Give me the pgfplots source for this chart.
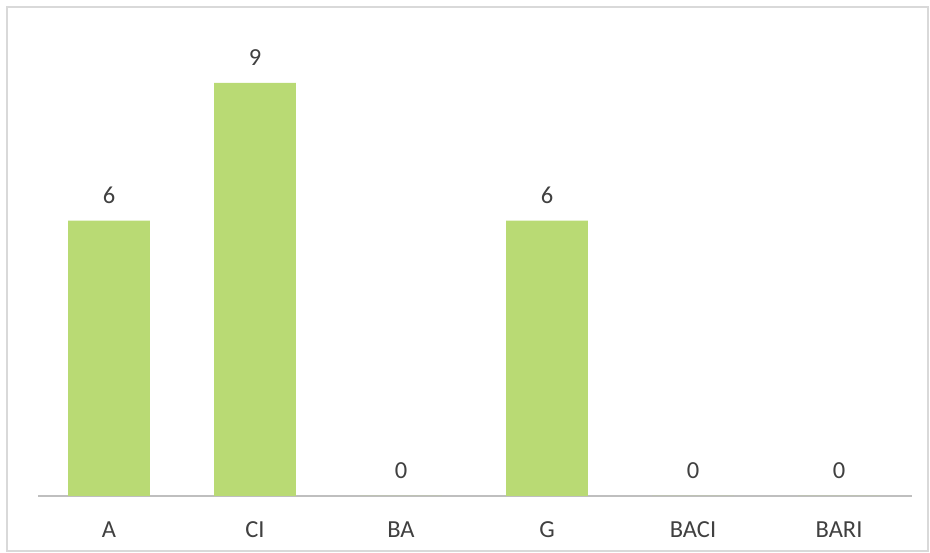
\documentclass[border=0pt]{standalone}
\usepackage{pgfplots}
\pgfplotsset{compat=1.18}
\usepackage{fontspec}
\setmainfont{Carlito}
\definecolor{bargreen}{HTML}{B9DA74}
\definecolor{txtgray}{HTML}{404040}
\definecolor{linegray}{HTML}{BFBFBF}
\definecolor{framegray}{HTML}{D9D9D9}
\begin{document}
\begin{tikzpicture}[x=1bp,y=1bp]
  \path[use as bounding box] (0,0) rectangle (930,553);
  \draw[framegray, line width=2bp] (7,2) rectangle (928,546);
  \begin{axis}[
    at={(109bp,57bp)}, anchor=origin,
    scale only axis,
    width=874bp, height=466bp,
    xmin=-0.486, xmax=5.5,
    ymin=0, ymax=10.15,
    ybar, bar width=0.56,
    axis x line=bottom, axis y line=none,
    axis line style={linegray, line width=2.6bp, -},
    xtick=data, xticklabels={A, CI, BA, G, BACI, BARI},
    major tick length=0pt,
    /pgf/number format/assume math mode=true,
    xticklabel style={anchor=base, yshift=-41.5bp, font=\fontsize{24.5bp}{28bp}\selectfont, text=txtgray},
    nodes near coords,
    every node near coord/.style={anchor=base, yshift=17bp, font=\fontsize{24.5bp}{28bp}\selectfont, text=txtgray},
    clip=false,
  ]
    \addplot[fill=bargreen, draw=none] coordinates {(0,6) (1,9) (2,0) (3,6) (4,0) (5,0)};
  \end{axis}
\end{tikzpicture}
\end{document}
